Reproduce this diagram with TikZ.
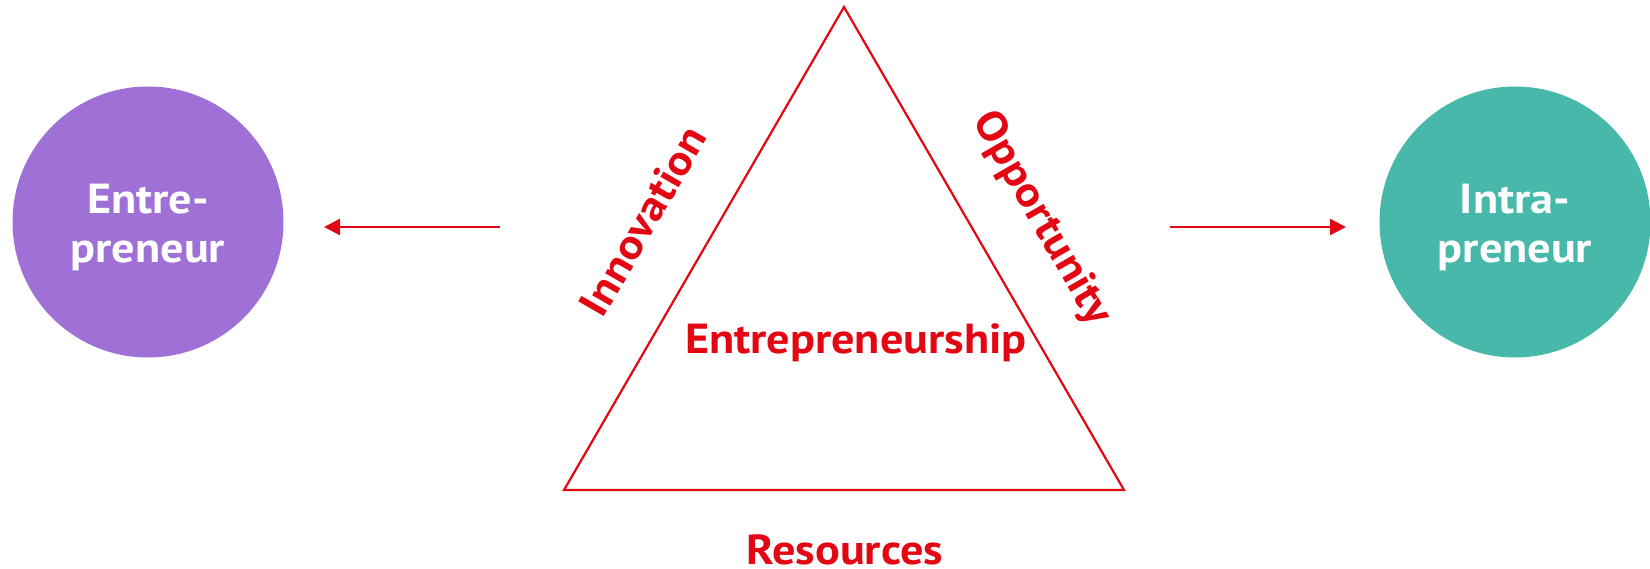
\documentclass[tikz,border=0pt]{standalone}
\usepackage{fontspec}
\setmainfont[FakeStretch=1.1]{PT Sans}
\usetikzlibrary{arrows.meta}
\definecolor{redc}{HTML}{E30613}
\definecolor{purplec}{HTML}{9F70D6}
\definecolor{tealc}{HTML}{48B8AA}
\tikzset{
  bubble/.style={circle, minimum size=271pt, inner sep=0pt},
  bubbletext/.style={text=white, align=center, inner sep=0pt,
    font=\bfseries\fontsize{42}{49}\selectfont},
  redlabel/.style={text=redc, inner sep=0pt, font=\bfseries\fontsize{42}{49}\selectfont},
  conn/.style={draw=redc, line width=2.4pt, -{Triangle[length=16pt,width=16pt]}},
  tri/.style={draw=redc, line width=2.2pt, line join=miter}
}
\begin{document}
\begin{tikzpicture}[x=1pt,y=-1pt]
\useasboundingbox (0,0) rectangle (1650,569);
\node[bubble, fill=purplec] (ent) at (148,222) {};
\node[bubble, fill=tealc] (intra) at (1515,222) {};
\node[bubbletext] (enttext) at ([yshift=-6pt]ent.center) {Entre-\\preneur};
\node[bubbletext] (intratext) at ([yshift=-6pt]intra.center) {Intra-\\preneur};
\coordinate (A) at (844,7);
\coordinate (B) at (564,490);
\coordinate (C) at (1124,490);
\draw[tri] (A) -- (C) -- (B) -- cycle;
\node[redlabel] (core) at (856,343) {Entrepreneurship};
\node[redlabel] (res) at (845,550) {Resources};
\node[redlabel, rotate=60] (inno) at (643,221) {Innovation};
\node[redlabel, rotate=-60] (opp) at (1041,219) {Opportunity};
\coordinate (ltail) at (500,227);
\coordinate (ltip) at (324,227);
\coordinate (rtail) at (1170,227);
\coordinate (rtip) at (1346,227);
\draw[conn] (ltail) -- (ltip);
\draw[conn] (rtail) -- (rtip);
\end{tikzpicture}
\end{document}
